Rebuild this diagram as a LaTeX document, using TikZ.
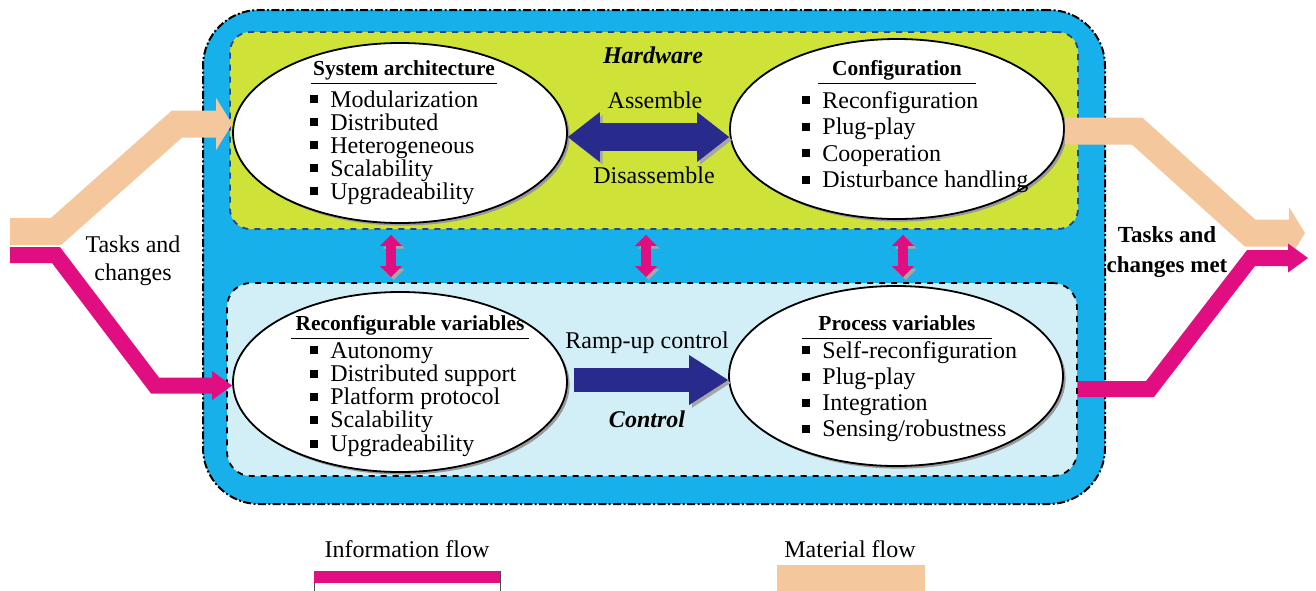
\documentclass[tikz,border=0pt]{standalone}
\usepackage{fontspec}
\setmainfont{Liberation Serif}
\usepackage{xcolor}
\usetikzlibrary{positioning,arrows.meta,shapes.geometric,shadows,calc}

\definecolor{sysblue}{RGB}{24,176,234}
\definecolor{hwgreen}{RGB}{206,226,56}
\definecolor{hwborder}{RGB}{30,70,150}
\definecolor{ctlblue}{RGB}{210,238,246}
\definecolor{navyarr}{RGB}{40,42,140}
\definecolor{infopink}{RGB}{224,14,128}
\definecolor{matpeach}{RGB}{244,200,156}

\newcommand{\sqb}{\rule[1.8pt]{4pt}{4pt}\hspace{6pt}}

\begin{document}
\begin{tikzpicture}[
  x=0.5pt, y=-0.5pt,
  every node/.style={font=\fontsize{12}{13}\selectfont},
  sysbox/.style={rectangle, draw, fill=sysblue, line width=1pt, rounded corners=28pt,
    dash pattern=on 4pt off 1.2pt on 1pt off 1.2pt, minimum width=451pt, minimum height=247pt},
  hwbox/.style={rectangle, draw=hwborder, fill=hwgreen, line width=0.9pt, rounded corners=10pt,
    dashed, minimum width=424pt, minimum height=98.5pt},
  ctlbox/.style={rectangle, draw, fill=ctlblue, line width=0.9pt, rounded corners=12pt,
    dashed, minimum width=425pt, minimum height=96.5pt},
  ellip/.style={ellipse, draw, line width=0.9pt, fill=white, minimum width=167pt,
    minimum height=90pt, inner sep=0pt,
    drop shadow={shadow xshift=1.3pt, shadow yshift=-1.3pt, fill=gray!80, opacity=1}},
  ttl/.style={anchor=base, font=\fontsize{10.7}{12}\selectfont\bfseries, text depth=2.5pt,
    inner ysep=1.5pt, inner xsep=1pt},
  uline/.style={line width=0.6pt},
  item/.style={anchor=base west, inner sep=0pt},
  lbl/.style={anchor=base, inner sep=0pt},
  bilbl/.style={lbl, font=\fontsize{12}{13}\selectfont\bfseries\itshape},
  shdw/.style={preaction={draw=gray!70, transform canvas={shift={(1.4pt,-1.4pt)}}}},
  asmarr/.style={draw=navyarr, line width=14pt, shdw,
    arrows={Triangle[width=25pt,length=16pt,line width=0pt]-Triangle[width=25pt,length=16pt,line width=0pt]}},
  rampar/.style={draw=navyarr, line width=12pt, shdw,
    arrows={-Triangle[width=25pt,length=19.5pt,line width=0pt]}},
  vdbl/.style={draw=infopink, line width=5pt, shdw, shorten <=2.5pt, shorten >=2.5pt,
    arrows={Triangle[width=11pt,length=5.5pt,line width=0pt]-Triangle[width=11pt,length=5.5pt,line width=0pt]}},
  matflow/.style={draw=matpeach, line width=13.5pt, line join=miter,
    arrows={-Triangle[width=26pt,length=8pt,line width=0pt]}},
  infflow/.style={draw=infopink, line width=8pt, line join=miter,
    arrows={-Triangle[width=14.5pt,length=10pt,line width=0pt]}},
]
  \useasboundingbox (0,0) rectangle (1316,590);

  % --- boxes ---
  \node[sysbox] (sys) at (654,257) {};
  \node[hwbox] (hw) at (654,130.5) {};
  \node[ctlbox] (ctl) at (652,379.5) {};

  % --- hardware ---
  \node[ellip] (sa) at (400,133) {};
  \node[ellip] (cf) at (897,129) {};
  \node[ttl] (saT) at (404,75) {System architecture};
  \draw[uline] (saT.south west) -- (saT.south east);
  \node[ttl, inner xsep=7pt] (cfT) at (897,75) {Configuration};
  \draw[uline] (cfT.south west) -- (cfT.south east);
  \foreach \t [count=\i from 0] in {Modularization, Distributed, Heterogeneous, Scalability, Upgradeability}
    \node[item] (sa\i) at (310,{107+23*\i}) {\sqb\t};
  \foreach \t [count=\i from 0] in {Reconfiguration, Plug-play, Cooperation, Disturbance handling}
    \node[item] (cf\i) at (802,{108+26.5*\i}) {\sqb\t};

  \node[bilbl] (hwL) at (653,63) {Hardware};
  \node[lbl] (asmL) at (655,108) {Assemble};
  \node[lbl] (disL) at (654,183) {Disassemble};
  \coordinate (asm) at (650,137);
  \draw[asmarr] (sa.east |- asm) -- (cf.west |- asm);

  % --- control ---
  \node[ellip] (rv) at (400,382) {};
  \node[ellip] (pv) at (896,376) {};
  \node[ttl, inner xsep=2pt] (rvT) at (410,330) {Reconfigurable variables};
  \draw[uline] (rvT.south west) -- (rvT.south east);
  \node[ttl, inner xsep=8pt] (pvT) at (897,330) {Process variables};
  \draw[uline] (pvT.south west) -- (pvT.south east);
  \foreach \t [count=\i from 0] in {Autonomy, Distributed support, Platform protocol, Scalability, Upgradeability}
    \node[item] (rv\i) at (310,{358+23.3*\i}) {\sqb\t};
  \foreach \t [count=\i from 0] in {Self-reconfiguration, Plug-play, Integration, Sensing/robustness}
    \node[item] (pv\i) at (802,{358+26.3*\i}) {\sqb\t};

  \node[lbl] (rampL) at (647,348) {Ramp-up control};
  \node[bilbl] (ctlL) at (647,427) {Control};
  \coordinate (ramp) at (650,380);
  \draw[rampar, shorten <=3pt] (rv.east |- ramp) -- (pv.west |- ramp);

  % --- hardware <-> control ---
  \coordinate (v1) at (391,255);
  \coordinate (v2) at (646,255);
  \coordinate (v3) at (903,255);
  \foreach \v in {v1,v2,v3}
    \draw[vdbl] (\v |- hw.south) -- (\v |- ctl.north);

  % --- flows in ---
  \coordinate (m1) at (10,231.5);
  \coordinate (m2) at (56,231.5);
  \coordinate (m3) at (177,124);
  \draw[matflow] (m1) -- (m2) -- (m3) -- (m3 -| sa.west);
  \coordinate (i1) at (10,255);
  \coordinate (i2) at (56,255);
  \coordinate (i3) at (155,385.5);
  \draw[infflow] (i1) -- (i2) -- (i3) -- (i3 -| rv.west);
  \node[lbl] (tc1) at (133,252) {Tasks and};
  \node[lbl] (tc2) at (133,280) {changes};

  % --- flows out ---
  \coordinate (m4) at (1137,131);
  \coordinate (m5) at (1250,233);
  \coordinate (m6) at (1305,233);
  \draw[matflow] (cf.east |- m4) -- (m4) -- (m5) -- (m6);
  \coordinate (i4) at (1150,389);
  \coordinate (i5) at (1251,258);
  \coordinate (i6) at (1308,258);
  \draw[infflow] (ctl.east |- i4) -- (i4) -- (i5) -- (i6);
  \node[lbl, font=\fontsize{11.5}{13}\selectfont\bfseries] (tm1) at (1167,242) {Tasks and};
  \node[lbl, font=\fontsize{11.5}{13}\selectfont\bfseries] (tm2) at (1167,272) {changes met};

  % --- legend ---
  \node[lbl] (infoL) at (407,557) {Information flow};
  \draw[black!70, line width=0.5pt] (314,571) rectangle (500,610);
  \fill[infopink] (314,571) rectangle (500,583);
  \node[lbl] (matL) at (850,557) {Material flow};
  \fill[matpeach] (777,565) rectangle (925,610);
\end{tikzpicture}
\end{document}
